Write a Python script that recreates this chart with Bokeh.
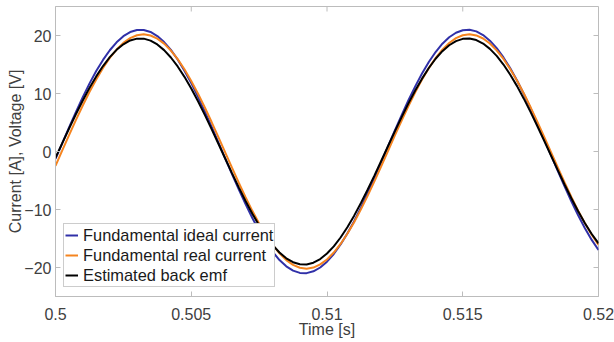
import numpy as np
from bokeh.plotting import figure
from bokeh.models import (Range1d, FixedTicker, NumeralTickFormatter,
                          Legend, LegendItem, ColumnDataSource)
from bokeh.embed import file_html
from bokeh.resources import INLINE

# Sample instants (s), one every 0.25 ms
time_s = np.round(np.linspace(0.5, 0.52, 81), 5)

ideal_current = [
    -1.29, 1.45, 4.16, 6.80, 9.33, 11.70, 13.87, 15.79, 17.46, 18.83,
    19.88, 20.59, 20.95, 20.96, 20.61, 19.91, 18.87, 17.52, 15.87, 13.94,
    11.79, 9.42, 6.90, 4.27, 1.56, -1.18, -3.89, -6.54, -9.08, -11.46,
    -13.65, -15.62, -17.31, -18.71, -19.79, -20.53, -20.93, -20.97, -20.66, -20.00,
    -18.99, -17.67, -16.04, -14.15, -12.01, -9.67, -7.16, -4.53, -1.83, 0.91,
    3.62, 6.28, 8.83, 11.23, 13.44, 15.43, 17.15, 18.58, 19.70, 20.48,
    20.91, 20.99, 20.71, 20.08, 19.11, 17.81, 16.22, 14.35, 12.23, 9.91,
    7.42, 4.80, 2.10, -0.63, -3.35, -6.02, -8.58, -11.00, -13.23, -15.24,
    -16.99]

real_current = [
    -2.46, 0.18, 2.81, 5.40, 7.89, 10.25, 12.43, 14.40, 16.13, 17.58,
    18.73, 19.55, 20.05, 20.20, 20.00, 19.47, 18.60, 17.41, 15.93, 14.17,
    12.17, 9.96, 7.58, 5.08, 2.48, -0.16, -2.79, -5.38, -7.87, -10.23,
    -12.41, -14.39, -16.11, -17.57, -18.72, -19.55, -20.05, -20.20, -20.01, -19.47,
    -18.61, -17.42, -15.94, -14.19, -12.19, -9.98, -7.60, -5.10, -2.50, 0.13,
    2.77, 5.35, 7.85, 10.21, 12.40, 14.37, 16.10, 17.56, 18.71, 19.54,
    20.04, 20.20, 20.01, 19.48, 18.62, 17.43, 15.95, 14.20, 12.21, 10.00,
    7.62, 5.12, 2.53, -0.11, -2.75, -5.33, -7.83, -10.19, -12.38, -14.36,
    -16.09]

back_emf = [
    -1.09, 1.45, 3.97, 6.42, 8.76, 10.95, 12.95, 14.73, 16.27, 17.53,
    18.49, 19.14, 19.46, 19.46, 19.12, 18.45, 17.48, 16.21, 14.66, 12.87,
    10.86, 8.66, 6.31, 3.86, 1.34, -1.20, -3.72, -6.18, -8.53, -10.73,
    -12.76, -14.57, -16.13, -17.42, -18.41, -19.09, -19.45, -19.47, -19.17, -18.54,
    -17.59, -16.35, -14.83, -13.06, -11.06, -8.88, -6.55, -4.11, -1.59, 0.95,
    3.47, 5.93, 8.30, 10.52, 12.56, 14.40, 15.99, 17.30, 18.32, 19.03,
    19.42, 19.48, 19.21, 18.61, 17.70, 16.49, 14.99, 13.24, 11.27, 9.11,
    6.79, 4.36, 1.85, -0.69, -3.22, -5.69, -8.07, -10.30, -12.37, -14.23,
    -15.84]

series_names = ["Fundamental ideal current", "Fundamental real current", "Estimated back emf"]
series_colors = ["#3030a8", "#f5841f", "#000000"]

x_start, x_end = 0.5, 0.52
y_start, y_end = -25, 25
x_ticks = [0.5, 0.505, 0.51, 0.515, 0.52]
y_ticks = [-20, -10, 0, 10, 20]

FONT = "Liberation Sans"
TEXT = "#404040"
FRAME = "#bcbcbc"

p = figure(width=614, height=342, output_backend="svg", toolbar_location=None,
           x_range=Range1d(x_start, x_end), y_range=Range1d(y_start, y_end),
           min_border_left=55, min_border_right=16, min_border_top=6, min_border_bottom=46,
           x_axis_label="Time [s]", y_axis_label="Current [A], Voltage [V]")
p.background_fill_color = "white"
p.border_fill_color = "white"
p.outline_line_color = FRAME
p.outline_line_width = 1
p.xgrid.visible = False
p.ygrid.visible = False

for ax in (p.xaxis[0], p.yaxis[0]):
    ax.axis_line_color = FRAME
    ax.major_tick_line_color = FRAME
    ax.minor_tick_line_color = None
    ax.major_tick_in = 5
    ax.major_tick_out = 0
    ax.major_label_text_font = FONT
    ax.major_label_text_font_size = "16px"
    ax.major_label_text_color = TEXT
    ax.axis_label_text_font = FONT
    ax.axis_label_text_font_size = "16px"
    ax.axis_label_text_font_style = "normal"
    ax.axis_label_text_color = TEXT

p.xaxis[0].ticker = FixedTicker(ticks=x_ticks)
p.xaxis[0].formatter = NumeralTickFormatter(format="0.[000]")
p.xaxis[0].major_label_standoff = 11
p.xaxis[0].axis_label_standoff = -2
p.yaxis[0].ticker = FixedTicker(ticks=y_ticks)
p.yaxis[0].major_label_standoff = 4
p.yaxis[0].axis_label_standoff = -3

# inward tick marks along the top and right edges of the box
p.ray(x=x_ticks, y=[y_end] * len(x_ticks), length=5, length_units="screen",
      angle=-np.pi / 2, line_color=FRAME, line_width=1)
p.ray(x=[x_end] * len(y_ticks), y=y_ticks, length=5, length_units="screen",
      angle=np.pi, line_color=FRAME, line_width=1)

src = ColumnDataSource(dict(t=time_s, ideal=ideal_current, real=real_current, emf=back_emf))
renderers = []
for col, color in zip(["ideal", "real", "emf"], series_colors):
    r = p.line("t", col, source=src, line_color=color, line_width=2)
    renderers.append(r)

legend = Legend(items=[LegendItem(label=n, renderers=[r]) for n, r in zip(series_names, renderers)],
                location=(8, 9), orientation="vertical")
legend.label_text_font = FONT
legend.label_text_font_size = "16.4px"
legend.label_text_color = "#1a1a1a"
legend.glyph_width = 13
legend.glyph_height = 20
legend.label_height = 20
legend.label_standoff = 5
legend.spacing = 0
legend.padding = 1
legend.margin = 0
legend.border_line_color = "#9a9a9a"
legend.border_line_width = 1
legend.background_fill_color = "white"
legend.background_fill_alpha = 1
p.add_layout(legend, "center")

open("out.html", "w").write(file_html(p, INLINE))
